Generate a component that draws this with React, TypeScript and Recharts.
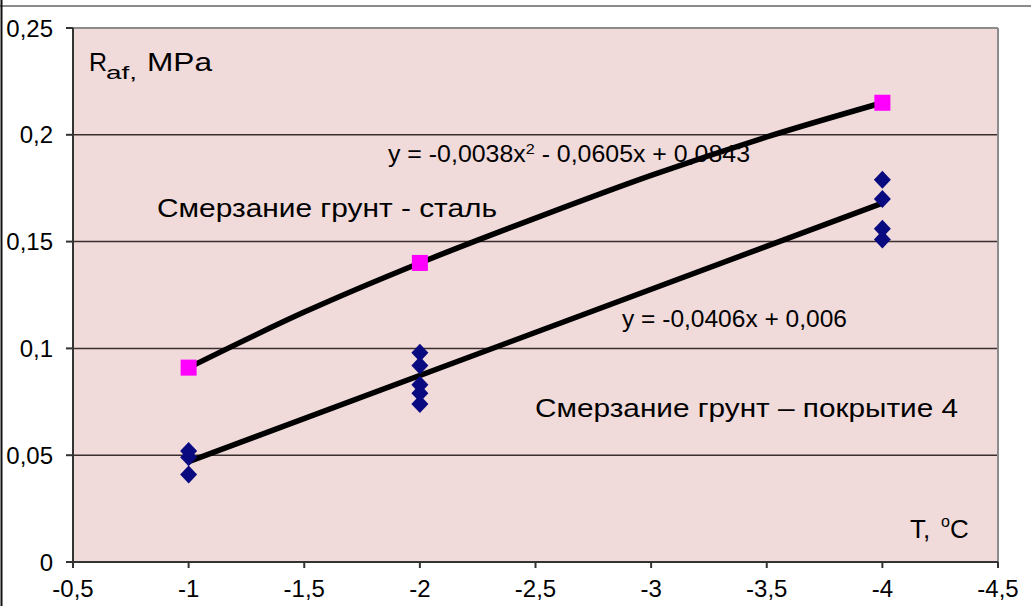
import React from 'react';
import { ComposedChart, Scatter, Line, XAxis, YAxis, CartesianGrid, ReferenceLine } from 'recharts';

// temperature (°C) and adhesion strength (MPa)
const xTicks = [-0.5, -1, -1.5, -2, -2.5, -3, -3.5, -4, -4.5];
const yTicks = [0, 0.05, 0.1, 0.15, 0.2, 0.25];

const steelT = [-1, -2, -4];
const steelR = [0.091, 0.14, 0.215];

const coatT = [-1, -1, -1, -2, -2, -2, -2, -2, -4, -4, -4, -4];
const coatR = [0.052, 0.049, 0.041, 0.098, 0.092, 0.083, 0.079, 0.074, 0.179, 0.17, 0.156, 0.151];

// trend lines
const steelTrendT = [-1, -1.5, -2, -2.5, -3, -3.5, -4];
const steelTrendR = [0.091, 0.117, 0.14, 0.161, 0.181, 0.199, 0.215];

const coatTrendT = [-1, -4];
const coatTrendR = [0.047, 0.168];

const zip = (xs: number[], ys: number[]) => xs.map((x, i) => ({ x, y: ys[i] }));

const steel = zip(steelT, steelR);
const coat = zip(coatT, coatR);
const steelTrend = zip(steelTrendT, steelTrendR);
const coatTrend = zip(coatTrendT, coatTrendR);

const FONT = '"Liberation Sans", Arial, sans-serif';
const fmt = (v: number) => String(v).replace('.', ',');

const Square = ({ cx, cy }: any) => <rect x={cx - 8} y={cy - 8} width={16} height={16} fill="#ff00ff" />;

const Diamond = ({ cx, cy }: any) => (
  <polygon points={`${cx},${cy - 9} ${cx + 8.5},${cy} ${cx},${cy + 9} ${cx - 8.5},${cy}`} fill="#0a0a80" />
);

const W = 1031;
const H = 606;

export default function App() {
  return (
    <div style={{ position: 'absolute', left: 0, top: 0, width: W, height: H, background: '#fff', fontFamily: FONT }}>
      <ComposedChart width={W} height={H} margin={{ top: 28, right: 33, left: 13, bottom: 14 }}>
        <CartesianGrid vertical={false} horizontalValues={yTicks} stroke="#3a2e2e" strokeWidth={1.5} fill="#f0dada" fillOpacity={1} />
        <XAxis
          type="number"
          dataKey="x"
          domain={[-4.5, -0.5]}
          ticks={xTicks}
          reversed
          allowDataOverflow
          tickFormatter={fmt}
          height={30}
          tickSize={6}
          tickMargin={12}
          stroke="#333"
          strokeWidth={2}
          tick={{ fill: '#000', fontSize: 24, fontFamily: FONT }}
        />
        <YAxis
          type="number"
          dataKey="y"
          domain={[0, 0.25]}
          ticks={yTicks}
          allowDataOverflow
          tickFormatter={fmt}
          width={60}
          tickSize={7}
          tickMargin={13}
          stroke="#333"
          strokeWidth={2}
          tick={{ fill: '#000', fontSize: 24, fontFamily: FONT }}
        />
        <ReferenceLine y={0.25} stroke="#8c8c8c" strokeWidth={2} />
        <ReferenceLine x={-4.5} stroke="#8c8c8c" strokeWidth={2} />
        <Scatter data={steel} dataKey="y" shape={<Square />} isAnimationActive={false} />
        <Scatter data={coat} dataKey="y" shape={<Diamond />} isAnimationActive={false} />
        <Line data={steelTrend} dataKey="y" type="monotone" stroke="#000" strokeWidth={5.5} dot={false} isAnimationActive={false} />
        <Line data={coatTrend} dataKey="y" type="linear" stroke="#000" strokeWidth={5.5} dot={false} isAnimationActive={false} />
      </ComposedChart>
      <svg width={W} height={H} style={{ position: 'absolute', left: 0, top: 0, pointerEvents: 'none' }} fontFamily={FONT} fill="#000">
        <line x1={0} y1={6} x2={W} y2={6} stroke="#8c8c8c" strokeWidth={2} />
        <line x1={1.5} y1={0} x2={1.5} y2={H} stroke="#111" strokeWidth={2} />
        <text x={89} y={71} fontSize={25}>R</text>
        <text x={106} y={79} fontSize={18} textLength={31} lengthAdjust="spacingAndGlyphs">af,</text>
        <text x={147} y={71} fontSize={25} textLength={65} lengthAdjust="spacingAndGlyphs">MPa</text>
        <text x={157} y={217} fontSize={26} textLength={340} lengthAdjust="spacingAndGlyphs">Смерзание грунт - сталь</text>
        <text x={388} y={162} fontSize={23} textLength={362} lengthAdjust="spacingAndGlyphs">
          y = -0,0038x<tspan dy={-8} fontSize={15}>2</tspan><tspan dy={8}> - 0,0605x + 0,0843</tspan>
        </text>
        <text x={622} y={327} fontSize={23} textLength={225} lengthAdjust="spacingAndGlyphs">y = -0,0406x + 0,006</text>
        <text x={535} y={417} fontSize={26} textLength={423} lengthAdjust="spacingAndGlyphs">Смерзание грунт – покрытие 4</text>
        <text x={910} y={538} fontSize={26}>T,</text>
        <text x={941} y={527} fontSize={16}>o</text>
        <text x={950} y={538} fontSize={26}>C</text>
      </svg>
    </div>
  );
}
